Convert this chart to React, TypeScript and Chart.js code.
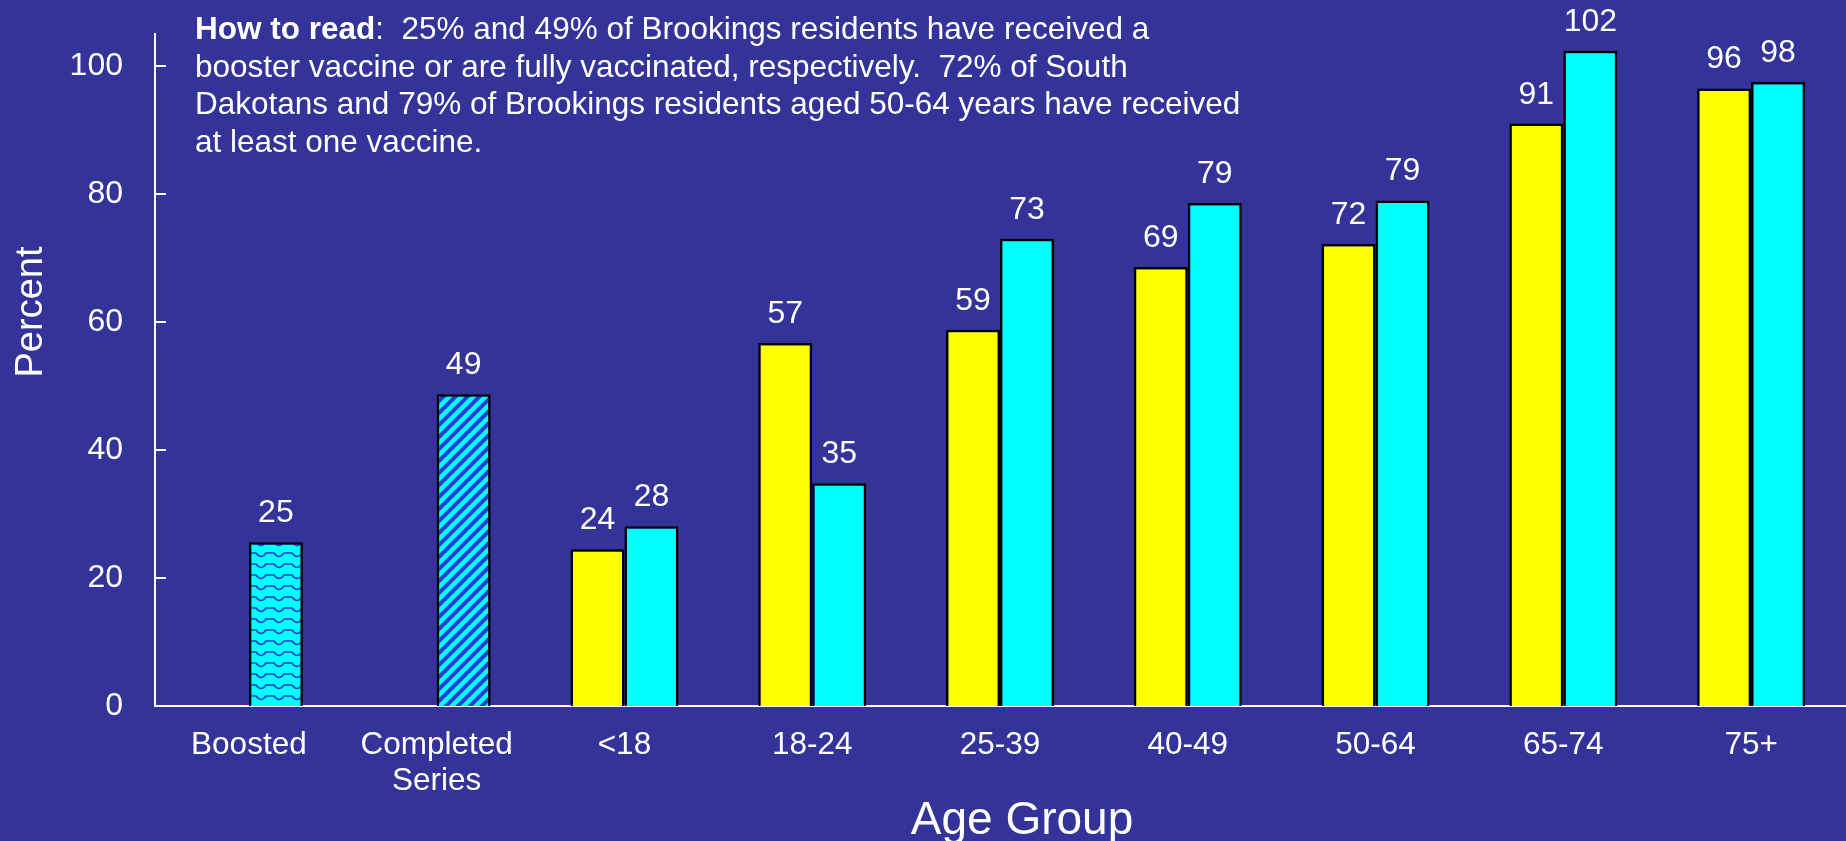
import React, { useEffect, useRef } from 'react';
import { Chart, registerables } from 'chart.js';

Chart.register(...registerables);

// ---- Data ----
const categories: (string | string[])[] = [
  'Boosted',
  ['Completed', 'Series'],
  '<18',
  '18-24',
  '25-39',
  '40-49',
  '50-64',
  '65-74',
  '75+',
];
const atLeastOneDose: (number | null)[] = [null, null, 24.5, 56.7, 58.8, 68.6, 72.2, 91.0, 96.5];
const fullyVaccinated: number[] = [25.6, 48.7, 28.1, 34.8, 73.0, 78.6, 79.0, 102.4, 97.5];
const atLeastOneDoseLabels: string[] = ['', '', '24', '57', '59', '69', '72', '91', '96'];
const fullyVaccinatedLabels: string[] = ['25', '49', '28', '35', '73', '79', '79', '102', '98'];
const yTickValues: number[] = [0, 20, 40, 60, 80, 100];
const howToReadBold = 'How to read';
const howToReadLines: string[] = [
  ':  25% and 49% of Brookings residents have received a',
  'booster vaccine or are fully vaccinated, respectively.  72% of South',
  'Dakotans and 79% of Brookings residents aged 50-64 years have received',
  'at least one vaccine.',
];

const BG = '#333399';
const FONT = '"Liberation Sans", Arial, Helvetica, sans-serif';

function makeWavePattern(ctx: CanvasRenderingContext2D): CanvasPattern | string {
  const c = document.createElement('canvas');
  c.width = 18;
  c.height = 11;
  const g = c.getContext('2d');
  if (!g) return '#00FFFF';
  g.fillStyle = '#00FFFF';
  g.fillRect(0, 0, 18, 11);
  g.strokeStyle = '#1f3fcf';
  g.lineWidth = 1.6;
  g.beginPath();
  g.moveTo(0, 3);
  g.lineTo(4, 3);
  g.quadraticCurveTo(9, 10, 14, 3);
  g.lineTo(18, 3);
  g.stroke();
  return ctx.createPattern(c, 'repeat') || '#00FFFF';
}

function makeStripePattern(ctx: CanvasRenderingContext2D): CanvasPattern | string {
  const s = 12;
  const c = document.createElement('canvas');
  c.width = s;
  c.height = s;
  const g = c.getContext('2d');
  if (!g) return '#00FFFF';
  g.fillStyle = '#00FFFF';
  g.fillRect(0, 0, s, s);
  g.strokeStyle = '#1f3fcf';
  g.lineWidth = 4;
  g.beginPath();
  g.moveTo(0, s);
  g.lineTo(s, 0);
  g.moveTo(-s / 2, s / 2);
  g.lineTo(s / 2, -s / 2);
  g.moveTo(s / 2, s * 1.5);
  g.lineTo(s * 1.5, s / 2);
  g.stroke();
  return ctx.createPattern(c, 'repeat') || '#00FFFF';
}

const overlayPlugin = {
  id: 'overlay',
  afterDraw(chart: any) {
    const ctx: CanvasRenderingContext2D = chart.ctx;
    const { left } = chart.chartArea;
    const yScale = chart.scales.y;
    ctx.save();

    // inward tick marks on the y axis
    ctx.strokeStyle = '#ffffff';
    ctx.lineWidth = 2;
    yScale.ticks.forEach((t: any) => {
      const py = yScale.getPixelForValue(t.value);
      ctx.beginPath();
      ctx.moveTo(left, py);
      ctx.lineTo(left + 11, py);
      ctx.stroke();
    });

    // value labels
    ctx.fillStyle = '#ffffff';
    ctx.font = `32px ${FONT}`;
    ctx.textAlign = 'center';
    ctx.textBaseline = 'alphabetic';
    const labelSets = [atLeastOneDoseLabels, fullyVaccinatedLabels];
    chart.data.datasets.forEach((_ds: any, di: number) => {
      const meta = chart.getDatasetMeta(di);
      meta.data.forEach((el: any, i: number) => {
        const txt = labelSets[di][i];
        if (!txt) return;
        ctx.fillText(txt, el.x, el.y - 20);
      });
    });

    // axis titles
    ctx.font = `46px ${FONT}`;
    ctx.fillText('Age Group', 1022, 834);
    ctx.save();
    ctx.translate(42, 312);
    ctx.rotate(-Math.PI / 2);
    ctx.font = `38px ${FONT}`;
    ctx.textAlign = 'center';
    ctx.fillText('Percent', 0, 0);
    ctx.restore();

    // how to read note
    ctx.textAlign = 'left';
    const x0 = 195;
    const y0 = 39;
    const lh = 37.7;
    ctx.font = `bold 31.5px ${FONT}`;
    ctx.fillText(howToReadBold, x0, y0);
    const bw = ctx.measureText(howToReadBold).width;
    ctx.font = `31.5px ${FONT}`;
    howToReadLines.forEach((line, i) => {
      ctx.fillText(line, i === 0 ? x0 + bw : x0, y0 + i * lh);
    });

    ctx.restore();
  },
};

export default function App() {
  const canvasRef = useRef<HTMLCanvasElement | null>(null);

  useEffect(() => {
    document.body.style.margin = '0';
    document.body.style.background = BG;
    const canvas = canvasRef.current;
    if (!canvas) return;
    const ctx = canvas.getContext('2d');
    if (!ctx) return;
    const wave = makeWavePattern(ctx);
    const stripes = makeStripePattern(ctx);
    const fullColors = fullyVaccinated.map((_v, i) => (i === 0 ? wave : i === 1 ? stripes : '#00FFFF'));

    const chart = new Chart(ctx, {
      type: 'bar',
      data: {
        labels: categories,
        datasets: [
          {
            label: 'At Least One Dose',
            data: atLeastOneDose,
            backgroundColor: '#FFFF00',
            borderColor: '#000000',
            borderWidth: 2.5,
            borderSkipped: 'bottom',
            categoryPercentage: 0.575,
            barPercentage: 1,
          },
          {
            label: 'Fully Vaccinated',
            data: fullyVaccinated,
            backgroundColor: fullColors as any,
            borderColor: '#000000',
            borderWidth: 2.5,
            borderSkipped: 'bottom',
            categoryPercentage: 0.575,
            barPercentage: 1,
          },
        ],
      },
      options: {
        animation: false,
        responsive: true,
        maintainAspectRatio: false,
        layout: { padding: { top: 34, right: 1, left: 0, bottom: 0 } },
        plugins: {
          legend: { display: false },
          tooltip: { enabled: false },
        },
        scales: {
          x: {
            grid: { display: false, drawTicks: false },
            border: { display: true, color: '#ffffff', width: 2 },
            ticks: {
              color: '#ffffff',
              font: { family: FONT, size: 31.5, lineHeight: 1.12 },
              padding: 22,
              maxRotation: 0,
              autoSkip: false,
            },
            afterFit: (scale: any) => {
              scale.height = 135;
              scale.paddingLeft = 0;
              scale.paddingRight = 0;
            },
          },
          y: {
            min: 0,
            max: 105,
            grid: { display: false, drawTicks: false },
            border: { display: true, color: '#ffffff', width: 2 },
            ticks: {
              color: '#ffffff',
              font: { family: FONT, size: 32 },
              padding: 32,
            },
            afterBuildTicks: (scale: any) => {
              scale.ticks = yTickValues.map((v) => ({ value: v }));
            },
            afterFit: (scale: any) => {
              scale.width = 155;
              scale.paddingTop = 0;
              scale.paddingBottom = 0;
            },
          },
        },
      },
      plugins: [overlayPlugin],
    });

    return () => {
      chart.destroy();
    };
  }, []);

  return (
    <div style={{ width: '1846px', height: '841px', background: BG, position: 'relative' }}>
      <canvas ref={canvasRef} />
    </div>
  );
}
